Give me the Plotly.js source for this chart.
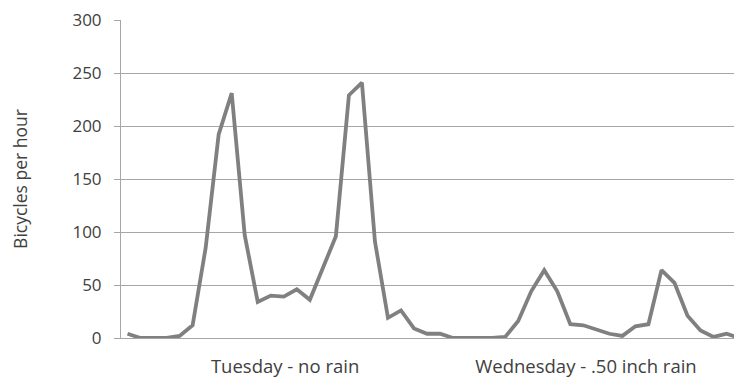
<!DOCTYPE html>
<html>
<head>
<meta charset="utf-8">
<script src="https://cdn.plot.ly/plotly-3.0.1.min.js"></script>
<style>html,body{margin:0;padding:0;background:#fff;}#chart{width:734px;height:377px;}</style>
</head>
<body>
<div id="chart"></div>
<script>
// Hourly bicycle counts (hour 0..23 of each day)
const tuesday = [4, 0, 0, 0, 2, 12, 85, 192, 231, 97, 34, 40, 39, 46, 36, 66, 96, 229, 241, 91, 19, 26, 9, 4];
const wednesday = [4, 0, 0, 0, 0, 1, 16, 44, 64, 44, 13, 12, 8, 4, 2, 11, 13, 64, 52, 21, 7, 1, 4, 0];
const dayLabels = ["Tuesday - no rain", "Wednesday - .50 inch rain"];
const dayLabelPos = [12.1, 35.2];
const yTicks = [0, 50, 100, 150, 200, 250, 300];
const yTitle = "Bicycles per hour";

const values = tuesday.concat(wednesday);
const hours = values.map((v, i) => i);

const fam = "Open Sans, sans-serif";
const txt = "#404040";
const grid = "#a6a6a6";

Plotly.newPlot("chart", [{
  x: hours,
  y: values,
  type: "scatter",
  mode: "lines",
  line: {color: "#808080", width: 3.8},
  hoverinfo: "skip"
}], {
  width: 734,
  height: 377,
  margin: {l: 121, r: 0, t: 20, b: 39},
  paper_bgcolor: "#fff",
  plot_bgcolor: "#fff",
  showlegend: false,
  font: {family: fam, size: 17, color: txt},
  xaxis: {
    range: [-0.5, 46.57],
    showgrid: false,
    zeroline: false,
    showline: true,
    linecolor: grid,
    linewidth: 1,
    ticks: "",
    tickvals: dayLabelPos,
    ticktext: dayLabels,
    ticklabelstandoff: 12,
    tickfont: {family: fam, size: 18.5, color: txt}
  },
  yaxis: {
    range: [0, 300],
    tickvals: yTicks,
    showgrid: true,
    gridcolor: grid,
    gridwidth: 1,
    zeroline: false,
    showline: true,
    linecolor: grid,
    linewidth: 1,
    ticks: "outside",
    ticklen: 6,
    tickcolor: grid,
    tickfont: {family: fam, size: 17, color: txt},
    ticklabelstandoff: 9,
    title: {text: yTitle, font: {family: fam, size: 17.5, color: txt}, standoff: 40}
  }
}, {displayModeBar: false, staticPlot: true});
</script>
</body>
</html>
